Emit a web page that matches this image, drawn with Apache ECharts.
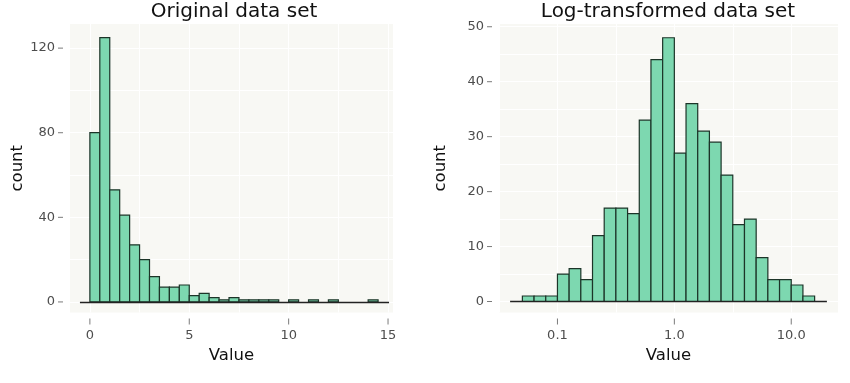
<!DOCTYPE html>
<html><head><meta charset="utf-8">
<script src="https://cdn.jsdelivr.net/npm/echarts@6/dist/echarts.min.js"></script>
<style>html,body{margin:0;padding:0;background:#fff}#c{width:850px;height:383px}</style>
</head><body><div id="c"></div>
<script>
// ---------- data ----------
const origTitle = 'Original data set';
const logTitle = 'Log-transformed data set';
const xAxisTitle = 'Value';
const yAxisTitle = 'count';

// Original histogram: bins of width 0.5 starting at 0
const origBinStart = 0;
const origBinWidth = 0.5;
const origCounts = [80,125,53,41,27,20,12,7,7,8,3,4,2,1,2,1,1,1,1,0,1,0,1,0,1,0,0,0,1];

// Log-transformed histogram: bins in log10 units, width 0.1 starting at -1.3
const logBinStart = -1.3;
const logBinWidth = 0.1;
const logCounts = [1,1,1,5,6,4,12,17,17,16,33,44,48,27,36,31,29,23,14,15,8,4,4,3,1];

// tick values and labels
const origXTicks = [0,5,10,15];
const origXTickLabels = ['0','5','10','15'];
const origYTicks = [0,40,80,120];
const origYTickLabels = ['0','40','80','120'];
const logXTicks = [-1,0,1];               // log10 positions
const logXTickLabels = ['0.1','1.0','10.0'];
const logYTicks = [0,10,20,30,40,50];
const logYTickLabels = ['0','10','20','30','40','50'];

// zero baseline extents (axis units)
const origBaseline = [-0.5, 15.05];
const logBaseline = [-1.405, 1.305];

// ---------- styling ----------
const FONT = 'DejaVu Sans';
const FILL = '#7DD8B0';
const EDGE = '#1C3428';
const PANEL = '#F8F8F4';
const GRIDC = '#FFFFFF';
const TICKC = '#7a7a7a';
const LABC = '#4d4d4d';

function makeBins(start, width, counts) {
  return counts.map((c, i) => [start + i * width, start + (i + 1) * width, c]).filter(d => d[2] > 0);
}
function findTick(v, ticks, labels) {
  for (let i = 0; i < ticks.length; i++) if (Math.abs(ticks[i] - v) < 1e-6) return labels[i];
  return null;
}
function xFmt(ticks, labels) {
  return v => { const l = findTick(v, ticks, labels); return l === null ? '' : '{t| }\n{v|' + l + '}'; };
}
function yFmt(ticks, labels) {
  return v => { const l = findTick(v, ticks, labels); return l === null ? '' : '{v|' + l + '}{g| }{t| }'; };
}
const xRich = {
  t: { width: 1, height: 6, backgroundColor: TICKC, fontSize: 1, lineHeight: 10 },
  v: { fontFamily: FONT, fontSize: 13, color: LABC, lineHeight: 18 }
};
const yRich = {
  v: { fontFamily: FONT, fontSize: 13, color: LABC },
  g: { width: 3, fontSize: 1 },
  t: { width: 5, height: 1, backgroundColor: TICKC, fontSize: 1 }
};
function stripes(period, idx) {
  const a = [];
  for (let i = 0; i < period; i++) a.push(i === idx ? GRIDC : 'rgba(0,0,0,0)');
  return a;
}
function renderBar(params, api) {
  const p0 = api.coord([api.value(0), api.value(2)]);
  const p1 = api.coord([api.value(1), 0]);
  return {
    type: 'rect',
    shape: { x: p0[0], y: p0[1], width: p1[0] - p0[0], height: p1[1] - p0[1] },
    style: { fill: FILL, stroke: EDGE, lineWidth: 1.2 }
  };
}

const chart = echarts.init(document.getElementById('c'), null, { renderer: 'canvas' });
const gridBottom = 70.5;
const titleStyle = { fontFamily: FONT, fontSize: 20, fontWeight: 'normal', color: '#111', lineHeight: 22 };
const nameStyle = { fontFamily: FONT, fontSize: 16.5, color: '#111' };
chart.setOption({
  animation: false,
  backgroundColor: '#ffffff',
  title: [
    { text: origTitle, left: 234, top: 1, textAlign: 'center', padding: 0, textStyle: titleStyle },
    { text: logTitle, left: 668, top: 1, textAlign: 'center', padding: 0, textStyle: titleStyle }
  ],
  grid: [
    { left: 70, right: 850 - 393, top: 24, bottom: gridBottom, show: true, backgroundColor: PANEL, borderWidth: 0 },
    { left: 499, right: 850 - 838, top: 24, bottom: gridBottom, show: true, backgroundColor: PANEL, borderWidth: 0 }
  ],
  xAxis: [
    { gridIndex: 0, type: 'value', min: -1, max: 15.25, interval: 0.5,
      axisLine: { show: false }, axisTick: { show: false },
      splitLine: { show: true, lineStyle: { color: stripes(5, 2), width: 1 } },
      axisLabel: { formatter: xFmt(origXTicks, origXTickLabels), rich: xRich, margin: 4 },
      name: xAxisTitle, nameLocation: 'middle', nameGap: 34, nameTextStyle: nameStyle },
    { gridIndex: 1, type: 'value', min: -1.5, max: 1.4, interval: 0.1,
      axisLine: { show: false }, axisTick: { show: false },
      splitLine: { show: true, lineStyle: { color: stripes(5, 0), width: 1 } },
      axisLabel: { formatter: xFmt(logXTicks, logXTickLabels), rich: xRich, margin: 4 },
      name: xAxisTitle, nameLocation: 'middle', nameGap: 34, nameTextStyle: nameStyle }
  ],
  yAxis: [
    { gridIndex: 0, type: 'value', min: -5, max: 131.4, interval: 5,
      axisLine: { show: false }, axisTick: { show: false },
      splitLine: { show: true, lineStyle: { color: stripes(4, 1), width: 1 } },
      axisLabel: { formatter: yFmt(origYTicks, origYTickLabels), rich: yRich, margin: 7 },
      name: yAxisTitle, nameLocation: 'middle', nameGap: 44, nameRotate: 90, nameTextStyle: nameStyle },
    { gridIndex: 1, type: 'value', min: -2, max: 50.5, interval: 1,
      axisLine: { show: false }, axisTick: { show: false },
      splitLine: { show: true, lineStyle: { color: stripes(5, 2), width: 1 } },
      axisLabel: { formatter: yFmt(logYTicks, logYTickLabels), rich: yRich, margin: 7 },
      name: yAxisTitle, nameLocation: 'middle', nameGap: 50, nameRotate: 90, nameTextStyle: nameStyle }
  ],
  series: [
    { type: 'custom', xAxisIndex: 0, yAxisIndex: 0, renderItem: renderBar,
      encode: { x: [0, 1], y: 2 }, data: makeBins(origBinStart, origBinWidth, origCounts),
      markLine: { silent: true, symbol: 'none', label: { show: false },
        lineStyle: { color: '#222', width: 1.4, type: 'solid' },
        data: [[{ coord: [origBaseline[0], 0] }, { coord: [origBaseline[1], 0] }]] } },
    { type: 'custom', xAxisIndex: 1, yAxisIndex: 1, renderItem: renderBar,
      encode: { x: [0, 1], y: 2 }, data: makeBins(logBinStart, logBinWidth, logCounts),
      markLine: { silent: true, symbol: 'none', label: { show: false },
        lineStyle: { color: '#222', width: 1.4, type: 'solid' },
        data: [[{ coord: [logBaseline[0], 0] }, { coord: [logBaseline[1], 0] }]] } }
  ]
});
</script>
</body></html>
